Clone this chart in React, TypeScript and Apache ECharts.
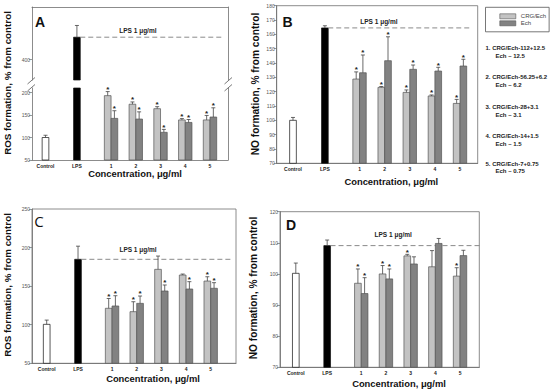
import React, { useEffect, useRef } from "react";
import * as echarts from "echarts";

// ---------- categories & tick labels ----------
const CATEGORIES = ["Control", "LPS", "1", "2", "3", "4", "5"];
// axis positions of the categories (Control/LPS are spaced wider than the numbered groups)
const CATEGORY_X = [0, 1.27, 2.65, 3.65, 4.65, 5.65, 6.65];
const SERIES_NAMES = ["CRG/Ech", "Ech"];

// ---------- Panel A : ROS formation ----------
const A_SINGLE = [100, 450]; // Control, LPS
const A_SINGLE_ERR = [5, 26];
const A_CRG = [193, 174, 164, 139, 139];
const A_CRG_ERR = [9, 5, 4.5, 3, 10];
const A_CRG_SIG = [1, 1, 1, 1, 1];
const A_ECH = [142.5, 141, 111.5, 133.5, 145.5];
const A_ECH_ERR = [17, 16, 6.5, 6.5, 20.5];
const A_ECH_SIG = [1, 1, 1, 1, 1];
const A_TICKS_UPPER = [400];
const A_TICKS_LOWER = [50, 100, 150, 200];

// ---------- Panel B : NO formation ----------
const B_SINGLE = [100, 164.5];
const B_SINGLE_ERR = [2, 1.5];
const B_CRG = [128.8, 123, 119.5, 117, 111.8];
const B_CRG_ERR = [5, 0.6, 1.7, 0.7, 2.8];
const B_CRG_SIG = [1, 1, 1, 1, 1];
const B_ECH = [133.2, 141.6, 135.6, 134.4, 137.9];
const B_ECH_ERR = [12.4, 16.7, 3, 2.6, 4.7];
const B_ECH_SIG = [1, 1, 1, 1, 1];
const B_TICKS = [70, 80, 90, 100, 110, 120, 130, 140, 150, 160, 170, 180];

// ---------- Panel C : ROS formation ----------
const C_SINGLE = [100.5, 184.8];
const C_SINGLE_ERR = [5.5, 17];
const C_CRG = [121.3, 116.9, 171.8, 164.4, 156.6];
const C_CRG_ERR = [12.7, 12.9, 17.2, 1.3, 5.6];
const C_CRG_SIG = [1, 1, 0, 0, 1];
const C_ECH = [124.3, 127.7, 143.7, 146.3, 147.2];
const C_ECH_ERR = [13.3, 9.5, 7.8, 9.5, 7.3];
const C_ECH_SIG = [1, 1, 1, 1, 1];
const C_TICKS = [50, 100, 150, 200, 250];

// ---------- Panel D : NO formation ----------
const D_SINGLE = [100.2, 109.1];
const D_SINGLE_ERR = [3.3, 1.8];
const D_CRG = [97, 100, 105.8, 102.3, 99.3];
const D_CRG_ERR = [4.6, 2.7, 0.5, 5.2, 2.7];
const D_CRG_SIG = [1, 1, 1, 0, 1];
const D_ECH = [93.7, 98.4, 103.2, 109.8, 105.9];
const D_ECH_ERR = [5.1, 3.2, 2.3, 1.6, 1.7];
const D_ECH_SIG = [1, 1, 0, 0, 0];
const D_TICKS = [70, 80, 90, 100, 110, 120];

const NOTES = [
  ["1. CRG/Ech-112+12.5", "Ech \u2013 12.5"],
  ["2. CRG/Ech-56.25+6.2", "Ech \u2013 6.2"],
  ["3. CRG/Ech-28+3.1", "Ech \u2013 3.1"],
  ["4. CRG/Ech-14+1.5", "Ech \u2013 1.5"],
  ["5. CRG/Ech-7+0.75", "Ech \u2013 0.75"],
];
const LPS_LABEL = "LPS 1 \u03bcg/ml";
const ROS_TITLE = "ROS formation, % from control";
const NO_TITLE = "NO formation, % from control";
const X_TITLE = "Concentration, \u03bcg/ml";

// ---------- styles ----------
const FONT = "'Liberation Sans', Arial, Helvetica, sans-serif";
const LIGHT = "#c3c3c3";
const DARK = "#828282";
const OUTLINE = "#555";
const ERR = "#444";
const AXIS = "#6e6e6e";
const BAR_W = 6.7;

type Kind = "single" | "crg" | "ech";
type LpsCfg = { dx: number; dy: number; dashEnd: number };

function makeRender(kind: Kind, lps?: LpsCfg) {
  return (params: any, api: any) => {
    const cs = params.coordSys;
    const xv = api.value(0);
    const v = api.value(1);
    const e = api.value(2);
    const sig = api.value(3);
    const p = api.coord([xv, v]);
    const pe = api.coord([xv, v + e]);
    const top = cs.y;
    const bottom = cs.y + cs.height;
    const x0 = kind === "single" ? p[0] - BAR_W / 2 : kind === "crg" ? p[0] - BAR_W : p[0];
    const cx = x0 + BAR_W / 2;
    const children: any[] = [];
    const yTop = Math.max(p[1], top);
    if (yTop >= bottom) return { type: "group", children };
    const fill =
      kind === "single" ? (params.dataIndex === 0 ? "#ffffff" : "#000000") : kind === "crg" ? LIGHT : DARK;
    const stroke = kind === "single" ? "#111" : OUTLINE;
    children.push({
      type: "rect",
      shape: { x: x0, y: yTop, width: BAR_W, height: bottom - yTop },
      style: { fill, stroke, lineWidth: 0.7 },
    });
    if (p[1] >= top) {
      const ye = Math.max(pe[1], top);
      children.push({
        type: "line",
        shape: { x1: cx, y1: p[1], x2: cx, y2: ye },
        style: { stroke: ERR, lineWidth: 0.8 },
      });
      if (pe[1] >= top) {
        children.push({
          type: "line",
          shape: { x1: cx - 2, y1: ye, x2: cx + 2, y2: ye },
          style: { stroke: ERR, lineWidth: 0.8 },
        });
      }
      if (sig) {
        children.push({
          type: "text",
          x: cx,
          y: ye - 2.2,
          style: {
            text: "*",
            fill: "#222",
            fontFamily: FONT,
            fontWeight: "bold",
            fontSize: 8,
            align: "center",
            verticalAlign: "middle",
          },
        });
      }
      if (lps && params.dataIndex === 1) {
        children.push({
          type: "line",
          shape: { x1: x0 + BAR_W, y1: p[1], x2: cs.x + cs.width + lps.dashEnd, y2: p[1] },
          style: { stroke: "#8a8a8a", lineWidth: 1, lineDash: [5, 3] },
        });
        children.push({
          type: "text",
          x: cx + lps.dx,
          y: p[1] + lps.dy,
          style: {
            text: LPS_LABEL,
            fill: "#222",
            fontFamily: FONT,
            fontWeight: "bold",
            fontSize: 6.5,
            align: "center",
            verticalAlign: "middle",
          },
        });
      }
    }
    return { type: "group", children };
  };
}

function singleData(vals: number[], errs: number[]) {
  return vals.map((v, i) => [CATEGORY_X[i], v, errs[i], 0]);
}
function groupData(vals: number[], errs: number[], sig: number[]) {
  return vals.map((v, i) => [CATEGORY_X[i + 2], v, errs[i], sig[i]]);
}

function labelFor(v: number) {
  const i = CATEGORY_X.findIndex((c) => Math.abs(c - v) < 1e-6);
  return i >= 0 ? CATEGORIES[i] : "";
}

function xAxisCfg(gridIndex: number, min: number, max: number, showLabels: boolean, position = "bottom") {
  return {
    type: "value",
    gridIndex,
    min,
    max,
    position,
    axisLine: { show: true, onZero: false, lineStyle: { color: AXIS, width: 0.8 } },
    axisTick: { show: false },
    splitLine: { show: false },
    axisLabel: showLabels
      ? {
          show: true,
          customValues: CATEGORY_X,
          formatter: (v: number) => labelFor(v),
          fontFamily: FONT,
          fontSize: 5,
          fontWeight: "bold",
          color: "#222",
          margin: 3,
        }
      : { show: false },
  };
}

function yAxisCfg(gridIndex: number, min: number, max: number, ticks: number[] | null, position = "left") {
  return {
    type: "value",
    gridIndex,
    min,
    max,
    position,
    axisLine: { show: true, onZero: false, lineStyle: { color: AXIS, width: 0.8 } },
    axisTick: ticks
      ? { show: true, customValues: ticks, length: 3, lineStyle: { color: AXIS, width: 0.7 } }
      : { show: false },
    splitLine: { show: false },
    axisLabel: ticks
      ? { show: true, customValues: ticks, fontFamily: FONT, fontSize: 5, color: "#555", margin: 2 }
      : { show: false },
  };
}

function textEl(x: number, y: number, text: string, size: number, opts: any = {}) {
  return {
    type: "text",
    x,
    y,
    rotation: opts.rotation || 0,
    style: {
      text,
      fill: opts.fill || "#111",
      fontFamily: opts.fontFamily || FONT,
      fontWeight: opts.weight || "bold",
      fontSize: size,
      align: opts.align || "center",
      verticalAlign: "middle",
    },
  };
}

function lineEl(x1: number, y1: number, x2: number, y2: number) {
  return { type: "line", shape: { x1, y1, x2, y2 }, style: { stroke: "#555", lineWidth: 0.8 } };
}

function buildOption() {
  const grids = [
    { left: 32, top: 7, width: 196, height: 73 }, // A upper
    { left: 32, top: 88, width: 196, height: 72 }, // A lower
    { left: 276.7, top: 5.7, width: 201, height: 157.6, show: true, borderColor: AXIS, borderWidth: 0.8 }, // B
    { left: 32, top: 209, width: 204, height: 154.3, show: true, borderColor: AXIS, borderWidth: 0.8 }, // C
    { left: 280, top: 211.7, width: 199.3, height: 155.6, show: true, borderColor: AXIS, borderWidth: 0.8 }, // D
  ];
  const xAxes = [
    xAxisCfg(0, -0.546, 7.378, false, "top"),
    xAxisCfg(1, -0.546, 7.378, true),
    xAxisCfg(2, -0.649, 7.355, true),
    xAxisCfg(3, -0.596, 7.676, true),
    xAxisCfg(4, -0.64, 7.43, true),
  ];
  const yAxes = [
    yAxisCfg(0, 355, 517, A_TICKS_UPPER),
    yAxisCfg(0, 355, 517, null, "right"),
    yAxisCfg(1, 50, 210, A_TICKS_LOWER),
    yAxisCfg(1, 50, 210, null, "right"),
    yAxisCfg(2, 70, 180, B_TICKS),
    yAxisCfg(3, 50, 250, C_TICKS),
    yAxisCfg(4, 70, 120, D_TICKS),
  ];

  const mk = (name: string, kind: Kind, xi: number, yi: number, data: any[], lps?: LpsCfg) => ({
    type: "custom",
    name,
    xAxisIndex: xi,
    yAxisIndex: yi,
    encode: { x: 0, y: 1 },
    data,
    renderItem: makeRender(kind, lps),
    itemStyle: {
      color: kind === "crg" ? LIGHT : kind === "ech" ? DARK : "#000",
      borderColor: OUTLINE,
      borderWidth: 0.6,
    },
    z: 3,
  });

  const series = [
    mk("Control/LPS", "single", 0, 0, singleData(A_SINGLE, A_SINGLE_ERR), { dx: 61, dy: -6.7, dashEnd: -6 }),
    mk("Control/LPS", "single", 1, 2, singleData(A_SINGLE, A_SINGLE_ERR)),
    mk(SERIES_NAMES[0], "crg", 1, 2, groupData(A_CRG, A_CRG_ERR, A_CRG_SIG)),
    mk(SERIES_NAMES[1], "ech", 1, 2, groupData(A_ECH, A_ECH_ERR, A_ECH_SIG)),

    mk("Control/LPS", "single", 2, 4, singleData(B_SINGLE, B_SINGLE_ERR), { dx: 54, dy: -6.6, dashEnd: -6 }),
    mk(SERIES_NAMES[0], "crg", 2, 4, groupData(B_CRG, B_CRG_ERR, B_CRG_SIG)),
    mk(SERIES_NAMES[1], "ech", 2, 4, groupData(B_ECH, B_ECH_ERR, B_ECH_SIG)),

    mk("Control/LPS", "single", 3, 5, singleData(C_SINGLE, C_SINGLE_ERR), { dx: 60, dy: -10, dashEnd: -4.5 }),
    mk(SERIES_NAMES[0], "crg", 3, 5, groupData(C_CRG, C_CRG_ERR, C_CRG_SIG)),
    mk(SERIES_NAMES[1], "ech", 3, 5, groupData(C_ECH, C_ECH_ERR, C_ECH_SIG)),

    mk("Control/LPS", "single", 4, 6, singleData(D_SINGLE, D_SINGLE_ERR), { dx: 66, dy: -11.4, dashEnd: 2 }),
    mk(SERIES_NAMES[0], "crg", 4, 6, groupData(D_CRG, D_CRG_ERR, D_CRG_SIG)),
    mk(SERIES_NAMES[1], "ech", 4, 6, groupData(D_ECH, D_ECH_ERR, D_ECH_SIG)),
  ];

  const notesEls: any[] = [];
  const noteY = [
    [48.3, 55.5],
    [77.3, 84.7],
    [107.3, 115],
    [136.3, 144],
    [164, 171.3],
  ];
  NOTES.forEach((n, i) => {
    notesEls.push(textEl(485.5, noteY[i][0], n[0], 6, { align: "left", fill: "#222" }));
    notesEls.push(textEl(495.5, noteY[i][1], n[1], 6, { align: "left", fill: "#222" }));
  });

  const graphic = [
    // panel letters
    textEl(40, 22, "A", 14),
    textEl(287.5, 22, "B", 14),
    textEl(39, 221, "C", 15, { weight: "normal", fontFamily: "'Open Sans', 'Liberation Sans', sans-serif" }),
    textEl(291, 225, "D", 14),
    // y-axis titles
    textEl(7, 83, ROS_TITLE, 9.8, { rotation: Math.PI / 2 }),
    textEl(255, 84, NO_TITLE, 10.2, { rotation: Math.PI / 2 }),
    textEl(7.3, 285, ROS_TITLE, 9.8, { rotation: Math.PI / 2 }),
    textEl(253, 288, NO_TITLE, 10.2, { rotation: Math.PI / 2 }),
    // x-axis titles
    textEl(135, 173.7, X_TITLE, 9.4),
    textEl(391.3, 181.7, X_TITLE, 9.4),
    textEl(153, 378.3, X_TITLE, 9.4),
    textEl(399, 383.3, X_TITLE, 9.4),
    // axis break marks (panel A)
    lineEl(27.5, 84, 35, 77.5),
    lineEl(27.5, 91, 35, 84.5),
    lineEl(224.5, 84, 232, 77.5),
    lineEl(224.5, 91, 232, 84.5),
    ...notesEls,
  ];

  return {
    animation: false,
    backgroundColor: "#ffffff",
    textStyle: { fontFamily: FONT },
    grid: grids,
    xAxis: xAxes,
    yAxis: yAxes,
    legend: {
      left: 485.5,
      top: 7.3,
      orient: "vertical",
      itemWidth: 16,
      itemHeight: 5,
      itemGap: 1,
      padding: [6, 3, 5.5, 14],
      borderColor: "#555",
      borderWidth: 0.8,
      selectedMode: false,
      textStyle: { fontFamily: FONT, fontSize: 6, color: "#444" },
      data: [
        { name: SERIES_NAMES[0], icon: "rect", itemStyle: { color: LIGHT, borderColor: OUTLINE, borderWidth: 0.6 } },
        { name: SERIES_NAMES[1], icon: "rect", itemStyle: { color: DARK, borderColor: OUTLINE, borderWidth: 0.6 } },
      ],
    },
    series,
    graphic,
  };
}

export default function App() {
  const ref = useRef<HTMLDivElement>(null);
  useEffect(() => {
    if (!ref.current) return;
    const chart = echarts.init(ref.current, undefined, { renderer: "svg" });
    chart.setOption(buildOption() as any);
    return () => chart.dispose();
  }, []);
  return (
    <div
      ref={ref}
      style={{ position: "absolute", left: 0, top: 0, width: 550, height: 392, background: "#fff" }}
    />
  );
}
